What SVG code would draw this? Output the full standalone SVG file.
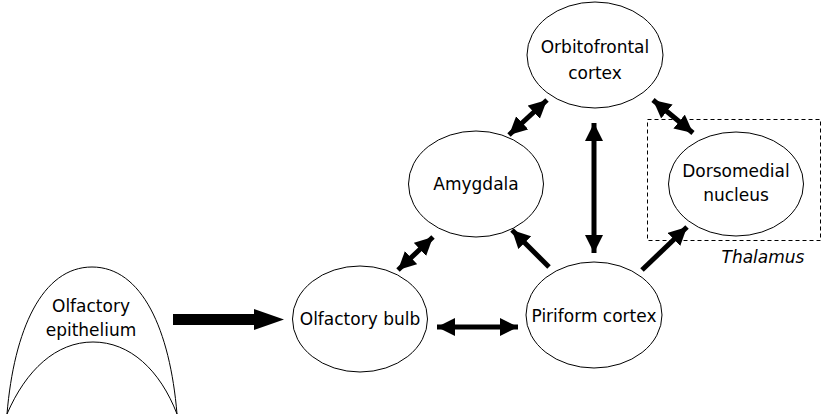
<svg xmlns="http://www.w3.org/2000/svg" width="824" height="420" viewBox="0 0 824 420">
  <style>
    .node { fill: #fff; stroke: #000; stroke-width: 1; }
    .lbl { font-family: "DejaVu Sans", "Liberation Sans", sans-serif; font-size: 17px; fill: #000; text-anchor: middle; }
    .it { font-style: italic; }
    .conn { stroke: #000; stroke-width: 5; fill: none; }
    .box { fill: none; stroke: #000; stroke-width: 1; stroke-dasharray: 4 3; }
  </style>
  <defs>
    <marker id="head" viewBox="0 0 10 10" refX="10" refY="5" markerWidth="3.6" markerHeight="3.7" markerUnits="strokeWidth" orient="auto-start-reverse">
      <path d="M0,0 L10,5 L0,10 Z" fill="#000"/>
    </marker>
  </defs>
  <rect width="824" height="420" fill="#fff"/>

  <!-- thalamus region -->
  <g id="thalamus">
    <rect class="box" x="647.5" y="119.5" width="173" height="121"/>
    <text class="lbl it" x="763" y="263">Thalamus</text>
  </g>

  <g id="epithelium">
    <path class="node" d="M7,414 C14,330 42,267 92,267 C142,267 170,330 177,414 C160,370 130,342 93,342 C56,342 26,370 7,414 Z"/>
    <text class="lbl" x="91" y="312">Olfactory</text>
    <text class="lbl" x="91" y="336">epithelium</text>
  </g>

  <g id="bulb">
    <ellipse class="node" cx="360" cy="319" rx="67.5" ry="53"/>
    <text class="lbl" x="360" y="325">Olfactory bulb</text>
  </g>

  <g id="piriform">
    <ellipse class="node" cx="594" cy="315" rx="68" ry="53"/>
    <text class="lbl" x="594" y="322">Piriform cortex</text>
  </g>

  <g id="amygdala">
    <ellipse class="node" cx="476" cy="184" rx="67.5" ry="53"/>
    <text class="lbl" x="476" y="190">Amygdala</text>
  </g>

  <g id="orbitofrontal">
    <ellipse class="node" cx="595" cy="55" rx="68" ry="53"/>
    <text class="lbl" x="595" y="53">Orbitofrontal</text>
    <text class="lbl" x="595" y="79">cortex</text>
  </g>

  <g id="dorsomedial">
    <ellipse class="node" cx="736" cy="184" rx="67.5" ry="52"/>
    <text class="lbl" x="736" y="177">Dorsomedial</text>
    <text class="lbl" x="736" y="201">nucleus</text>
  </g>

  <g id="connectors">
    <!-- epithelium to bulb: heavy arrow -->
    <path d="M173,314 H254 V309 L284,319.5 L254,330 V325 H173 Z" fill="#000"/>
    <!-- bulb <-> piriform -->
    <line class="conn" x1="437" y1="327" x2="518" y2="327" marker-start="url(#head)" marker-end="url(#head)"/>
    <!-- bulb <-> amygdala -->
    <line class="conn" x1="398" y1="270" x2="433" y2="237" marker-start="url(#head)" marker-end="url(#head)"/>
    <!-- amygdala <-> orbitofrontal -->
    <line class="conn" x1="509" y1="135" x2="547" y2="100" marker-start="url(#head)" marker-end="url(#head)"/>
    <!-- orbitofrontal <-> piriform -->
    <line class="conn" x1="594" y1="123" x2="594" y2="253" marker-start="url(#head)" marker-end="url(#head)"/>
    <!-- orbitofrontal <-> dorsomedial -->
    <line class="conn" x1="653" y1="100" x2="693" y2="133" marker-start="url(#head)" marker-end="url(#head)"/>
    <!-- piriform to amygdala -->
    <line class="conn" x1="549" y1="267" x2="512" y2="230" marker-end="url(#head)"/>
    <!-- piriform to dorsomedial -->
    <line class="conn" x1="642" y1="270" x2="687" y2="227" marker-end="url(#head)"/>
  </g>
</svg>
